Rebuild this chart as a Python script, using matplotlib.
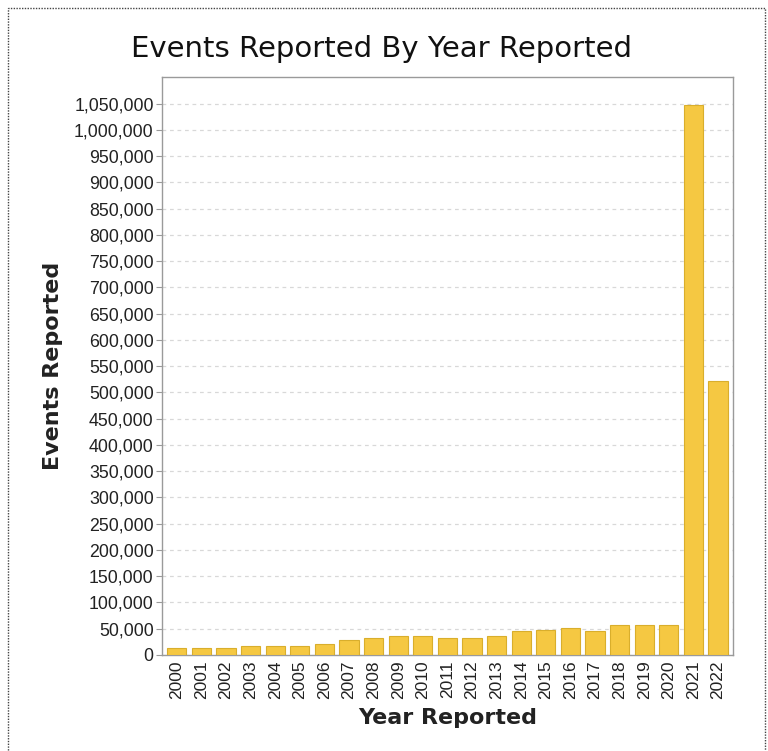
import matplotlib
matplotlib.use("Agg")
import matplotlib.pyplot as plt
from matplotlib.ticker import FuncFormatter
from matplotlib.patches import Rectangle

# Values
years = [str(y) for y in range(2000, 2023)]
events = [
    14000, 14000, 14000, 16500, 16500, 16500, 20000, 28500, 32000, 35000,
    35000, 32000, 32000, 35000, 45000, 48000, 50500, 45000, 57000, 57000,
    57000, 1048000, 522000,
]
y_ticks = list(range(0, 1050001, 50000))


def main():
    fig = plt.figure(figsize=(7.68, 7.51), dpi=100)
    fig.patch.set_facecolor("white")

    # dotted outer frame like the screenshot
    fig.add_artist(Rectangle((0.011, -0.01), 0.985, 0.999, transform=fig.transFigure,
                             fill=False, edgecolor="#444444", linestyle=(0, (1, 1)),
                             linewidth=1.0))

    ax = fig.add_axes([0.211, 0.128, 0.743, 0.769])
    x = range(len(years))
    ax.bar(x, events, width=0.78, color="#F5C842", edgecolor="#D9AE2C",
           linewidth=0.8, zorder=3)

    ax.set_xlim(-0.6, len(years) - 0.4)
    ax.set_ylim(0, 1100000)
    ax.set_yticks(y_ticks)
    ax.yaxis.set_major_formatter(FuncFormatter(lambda v, p: f"{int(v):,}"))
    ax.set_xticks(list(x))
    ax.set_xticklabels(years, rotation=90, fontsize=12.5, family="Liberation Sans",
                       color="#222222")
    for lab in ax.get_yticklabels():
        lab.set_fontsize(12.8)
        lab.set_family("Liberation Sans")
        lab.set_color("#222222")

    ax.grid(axis="y", linestyle=(0, (3, 3)), color="#D8D8D8", linewidth=0.9, zorder=0)
    for s in ax.spines.values():
        s.set_color("#9A9A9A")
        s.set_linewidth(1.0)
    ax.tick_params(axis="y", length=4, color="#9A9A9A", pad=2)
    ax.tick_params(axis="x", length=0, pad=4)

    ax.set_xlabel("Year Reported", fontsize=16, fontweight="bold", color="#222222",
                  labelpad=6)
    ax.set_ylabel("Events Reported", fontsize=16, fontweight="bold", color="#222222",
                  labelpad=8)
    fig.text(0.497, 0.935, "Events Reported By Year Reported", ha="center",
             va="center", fontsize=21, color="#111111")

    fig.savefig("out.png", dpi=100)


if __name__ == "__main__":
    main()
